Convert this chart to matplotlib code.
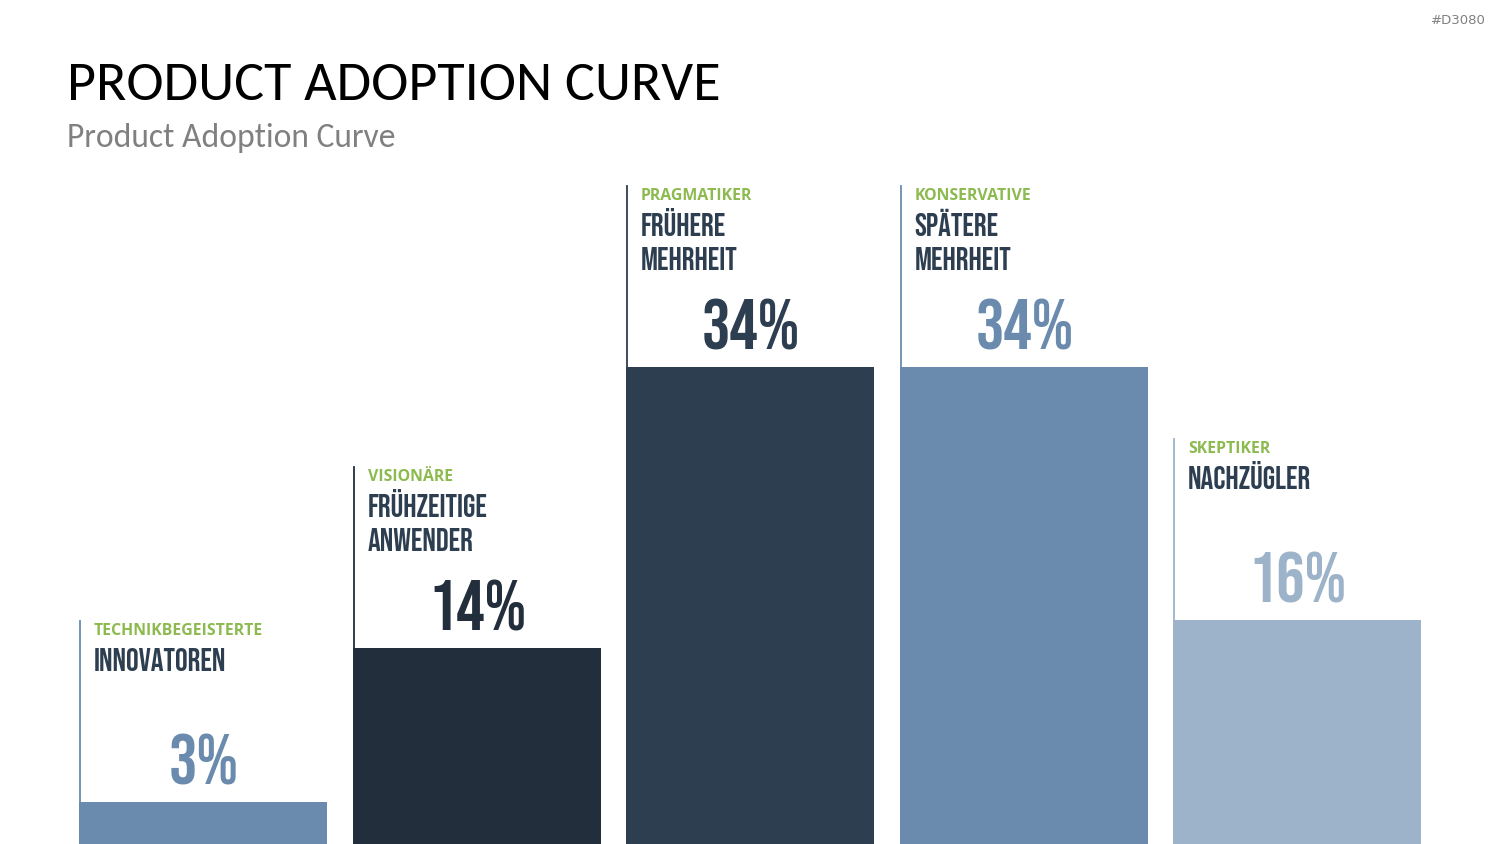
import matplotlib
matplotlib.use("Agg")
import matplotlib.pyplot as plt

# data
segments = ["TECHNIKBEGEISTERTE", "VISIONÄRE", "PRAGMATIKER", "KONSERVATIVE", "SKEPTIKER"]
names = [["INNOVATOREN"], ["FRÜHZEITIGE", "ANWENDER"], ["FRÜHERE", "MEHRHEIT"],
         ["SPÄTERE", "MEHRHEIT"], ["NACHZÜGLER"]]
shares = [3, 14, 34, 34, 16]
colors = ["#6a8bae", "#222e3b", "#2d3e50", "#6a8bae", "#9db3c9"]

GREEN = "#8dba4f"; INK = "#2d3e50"; GREY = "#808080"
W, H = 1500, 844
PX_PCT = 14.03            # pixels per percent
PITCH = 273.5; X0 = 203   # bar centre spacing / first centre, px
BW = 248 / PITCH

fig = plt.figure(figsize=(W / 100, H / 100), dpi=100)
ax = fig.add_axes([0, 0, 1, 1])
ax.set_xlim(-X0 / PITCH, (W - X0) / PITCH)
ax.set_ylim(0, H / PX_PCT)
ax.axis("off")

px = lambda p: p / PX_PCT  # px -> data units (vertical)

xs = range(len(shares))
ax.bar(xs, shares, width=BW, color=colors, zorder=2)

for i, v in enumerate(shares):
    left = i - BW / 2
    ax.plot([left + 0.004, left + 0.004], [v, v + px(181)], color=colors[i], lw=1.3, zorder=3)
    ax.annotate(segments[i], (left, v), xytext=(15, 167), textcoords="offset pixels",
                ha="left", va="baseline", color=GREEN, family="Open Sans",
                fontweight="bold", fontsize=11.4)
    for k, line in enumerate(names[i]):
        ax.annotate(line, (left, v), xytext=(15, 131 - 34 * k), textcoords="offset pixels",
                    ha="left", va="baseline", color=INK, family="Bebas Neue", fontsize=22.9)
    ax.annotate(f"{v}%", (i, v), xytext=(1, 17), textcoords="offset pixels",
                ha="center", va="baseline", color=colors[i], family="Bebas Neue", fontsize=51)

fig.text(67 / W, 1 - 100 / H, "PRODUCT ADOPTION CURVE", family="Carlito", fontsize=40.4,
         color="#000000", va="baseline", ha="left")
fig.text(67 / W, 1 - 147 / H, "Product Adoption Curve", family="Carlito", fontsize=24.2,
         color=GREY, va="baseline", ha="left")
fig.text(1486 / W, 1 - 24 / H, "#D3080", fontsize=9.5, color=GREY, va="baseline", ha="right")

fig.savefig("out.png", dpi=100)
